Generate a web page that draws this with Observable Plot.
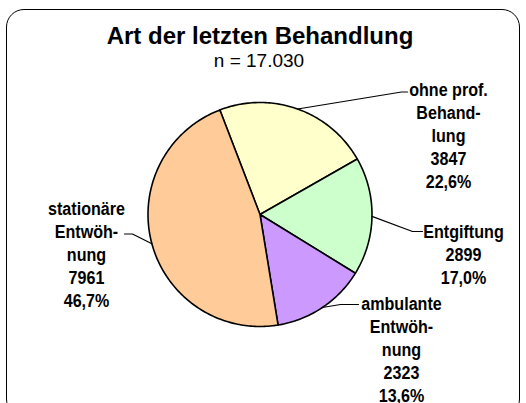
<!DOCTYPE html>
<html>
<head>
<meta charset="utf-8">
<script src="https://cdn.jsdelivr.net/npm/d3@7"></script>
<script src="https://cdn.jsdelivr.net/npm/@observablehq/plot@0.6"></script>
<style>
  body { margin: 0; background: #fff; }
  #wrap { position: relative; width: 526px; height: 403px; overflow: hidden; font-family: "Liberation Sans", Arial, sans-serif; color: #000; }
  #frame { position: absolute; left: 6px; top: 9px; width: 514px; height: 408px; border: 1px solid #000; border-radius: 18px; box-sizing: border-box; }
  #chart { position: absolute; left: 0; top: 0; }
  #title { position: absolute; left: 0; width: 520px; top: 22px; text-align: center; font-weight: bold; font-size: 24px; line-height: 27px; }
  #sub { position: absolute; left: 0; width: 518px; top: 50px; text-align: center; font-size: 19px; line-height: 22px; }
</style>
</head>
<body>
<div id="wrap">
  <div id="frame"></div>
  <div id="chart"></div>
  <div id="title">Art der letzten Behandlung</div>
  <div id="sub">n = 17.030</div>
</div>
<script>
// ---- data ----
const categories = ["ohne prof. Behandlung", "Entgiftung", "ambulante Entwöhnung", "stationäre Entwöhnung"];
const counts = [3847, 2899, 2323, 7961];
const percentLabels = ["22,6%", "17,0%", "13,6%", "46,7%"];
const labelLines = [["ohne prof.", "Behand-", "lung"], ["Entgiftung"], ["ambulante", "Entwöh-", "nung"], ["stationäre", "Entwöh-", "nung"]];

// ---- styles / layout ----
const sliceColors = ["#FFFFCC", "#CCFFCC", "#CC99FF", "#FFCC99"];
const W = 526, H = 403;
const pie = {cx: 259.5, cy: 214, r: 112, startDeg: -21};
const fontSize = 18.5, lineStep = 23, squeeze = 0.87;
// label block: x = center of text, y = first baseline; leader elbow and end
const labelLayout = [
  {x: 448, y: 92,    elbow: [401, 91.5], end: [407, 91.5]},
  {x: 463, y: 234,   elbow: [412, 231],  end: [422, 231]},
  {x: 401, y: 306.5, elbow: [340, 304],  end: [358, 304]},
  {x: 86,  y: 211,   elbow: [132, 233.5], end: [124, 233.5]}
];

const total = d3.sum(counts);
function pt(deg, rr) {
  const t = deg * Math.PI / 180;
  return {x: pie.cx + rr * Math.sin(t), y: pie.cy - rr * Math.cos(t)};
}
let acc = 0;
const slices = categories.map((c, i) => {
  const a0 = pie.startDeg + acc / total * 360;
  acc += counts[i];
  const a1 = pie.startDeg + acc / total * 360;
  const n = Math.ceil(a1 - a0);
  const pts = [pt(0, 0)];
  for (let k = 0; k <= n; k++) pts.push(pt(a0 + (a1 - a0) * k / n, pie.r));
  pts.push(pt(0, 0));
  return {c, i, a0, a1, mid: (a0 + a1) / 2, pts};
});

const leaders = [];
slices.forEach((s, i) => {
  const L = labelLayout[i];
  const p0 = pt(s.mid, pie.r);
  leaders.push({id: i, x: p0.x, y: p0.y});
  leaders.push({id: i, x: L.elbow[0], y: L.elbow[1]});
  leaders.push({id: i, x: L.end[0], y: L.end[1]});
});

const labels = slices.map((s, i) => ({
  x: labelLayout[i].x,
  y: labelLayout[i].y - 0.71 * fontSize,
  text: [...labelLines[i], String(counts[i]), percentLabels[i]].join("\n")
}));

const chart = Plot.plot({
  width: W,
  height: H,
  margin: 0,
  style: {background: "transparent", overflow: "visible"},
  x: {domain: [0, W], range: [0, W], axis: null},
  y: {domain: [0, H], range: [0, H], axis: null},
  marks: [
    ...slices.map(s => Plot.line(s.pts, {x: "x", y: "y", fill: sliceColors[s.i], stroke: "#000", strokeWidth: 1.6, strokeLinejoin: "round"})),
    Plot.line(leaders, {x: "x", y: "y", z: "id", stroke: "#000", strokeWidth: 1.2, curve: "linear"}),
    Plot.text(labels, {x: "x", y: "y", text: "text", lineAnchor: "top", lineHeight: lineStep / fontSize, fontSize: fontSize, fontWeight: "bold", fontFamily: "'Liberation Sans', Arial, sans-serif", textAnchor: "middle", fill: "#000"})
  ]
});

// condense the label glyphs horizontally (the original uses a narrow-looking bold face)
d3.select(chart).selectAll("text").each(function() {
  const t = this.getAttribute("transform");
  if (t && /translate/.test(t)) {
    this.setAttribute("transform", t + ` scale(${squeeze},1)`);
  } else {
    const x = +(this.getAttribute("x") || 0), y = +(this.getAttribute("y") || 0);
    this.removeAttribute("x"); this.removeAttribute("y");
    this.setAttribute("transform", `translate(${x},${y}) scale(${squeeze},1)` + (t ? " " + t : ""));
  }
});
document.getElementById("chart").appendChild(chart);
</script>
</body>
</html>
